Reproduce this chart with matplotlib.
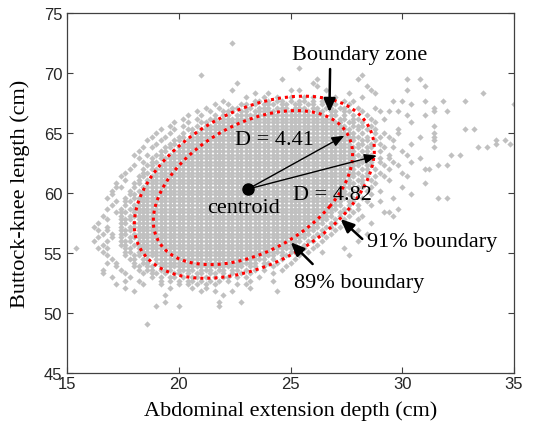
import numpy as np
import matplotlib
matplotlib.use('Agg')
import matplotlib.pyplot as plt
from matplotlib.patches import Ellipse

plt.rcParams['font.family'] = 'Liberation Sans'

# scatter read off the picture as a point map: one '#' = one sample,
# columns step 0.2 cm from x = 15.4, rows step 0.3 cm down from y = 72.5
# (spaces only split the columns into groups of ten)
map_x0, map_dx = 15.4, 0.2
map_y0, map_dy = 72.5, 0.3
scatter_map = [
    ".......... .......... .......... .....#.... .......... .......... .......... .......... .......... .........",
    ".......... .......... .......... .......... .......... .......... .......... .......... .......... .........",
    ".......... .......... .......... .......... .......... .......... .......... .......... .......... .........",
    ".......... .......... .......... .......... .......... .......... .......... .......... .......... .........",
    ".......... .......... .......... .......... .......... .......... .......... .......... .......... .........",
    ".......... .......... .......... .......... .......... .......... .......... .......... .......... .........",
    ".......... .......... .......... .......... .......... .......... .......... .......... .......... .........",
    ".......... .......... .......... .......... .......... #......... .......... .......... .......... .........",
    ".......... .......... .......... .......... .......... .......... .......... .......... .......... .........",
    ".......... .......... ........#. .......... .......... .......... ....#..... .......... .......... .........",
    ".......... .......... .......... .......... ......#... ....#..... ...#...... ....#..#.. .......... .........",
    ".......... .......... .......... ......#... .......... ...#...... .......... .......... .......... .........",
    ".......... .......... .......... .......... .......... ....#..... .....#.... ........#. .......... .........",
    ".......... .......... .......... .....#.... ........#. #.....#... ......#... ....#..... .......... .........",
    ".......... .......... .......... .......... #..#...... .......... .#.....#.. .......... .......... .#.......",
    ".......... .......... .......... ........#. ..#..#..#. .#.#....#. ....#..... .......... .......... .........",
    ".......... .......... .......... ...#...... ##.#.##.#. ##.#.##... #.#....... .#.#....#. ..#....#.. .........",
    ".......... .......... .......... .#..#..##. #.###.##.# #.##.#.##. .#........ .....#.... .......... ........#",
    ".......... .......... .........# ..#..##.## .###.###.# ##.##.##.# #..#...#.. .......... #......... .........",
    ".......... .......... .......#.. #..###.##. #####.#### ###.##.##. ##..#...#. #.#....... #..#...... .........",
    ".......... .......... .....#..#. .#.##.#### ########## ######.##. #.#..#.... ....#...#. .......... .........",
    ".......... .......... ....#..#.. ##.####### ########## ########.# #.##..#..# .......... .......... .........",
    ".......... .......... ..#..#..## .######### ########## ########## .##.#..#.. .....#.... .......... .........",
    ".......... .......... .#..#..#.# ########## ########## ########## #.###.#... .......... #......... .........",
    ".......... .........# ..#..##.## ########## ########## ########## ##.#.#.#.. ..#....... .......#.# .........",
    ".......... ........#. .#..#.#### ########## ########## ########## ###.#..#.# ..#....... #......... .........",
    ".......... .......#.. #..##.#### ########## ########## ########## ####.#..#. #......#.. #......... .........",
    ".......... ......#..# ..##.##### ########## ########## ########## ###.##.#.. .#........ #......... ....#.#..",
    ".......... ........#. .##.###### ########## ########## ########## ##.##.#.#. .....#.... .......... ....#..#.",
    ".......... .....#.#.. ##.####### ########## ########## ########## ####.##..# .#........ #......... #.#......",
    ".......... ....#....# #.######## ########## ########## ########## ###.##..#. ...#...... .......... .........",
    ".......... ...#..#.## .######### ########## ########## ########## ####.##... #...#..... ....#.#... .........",
    ".......... ....#..#.# ########## ########## ########## ########## ###.##..#. #......#.. .......... .........",
    ".......... .....#.##. ########## ########## ########## ########## #####.#.#. .#...#.... .......... .........",
    ".......... ...#..##.# ########## ########## ########## ########## ####.##..# ..#....... .#.#...... .........",
    ".......... ..#..#.### ########## ########## ########## ########## ###.##.#.. #.......## .......... .........",
    ".......... .#...##.## ########## ########## ########## ########## ####.#..#. ...#...... .......... .........",
    ".......... #...##.### ########## ########## ########## ########## ###.##.#.# ....#..... .......... .........",
    ".......... .#..#.#### ########## ########## ########## ########## ##.##.#... #......... .......... .........",
    ".........# ...##.#### ########## ########## ########## ########## ###.#..#.. ........#. .......... .........",
    ".........# #..#.##### ########## ########## ########## ########## ##.##.#... ...#...... .......... .........",
    "........#. ..#.###### ########## ########## ########## ########## #.##.#..#. .......... .......... .........",
    "........#. ..##.##### ########## ########## ########## ########## ##.#..#... .....#.... .......... .........",
    ".......#.. .#.####### ########## ########## ########## ########## #.#.#..... .#........ .#.#...... .........",
    ".........# .##.###### ########## ########## ########## ########## .##..#..#. .......... .......... .........",
    "........#. .#.####### ########## ########## ########## ########## .#.#..#... .......... .......... .........",
    ".......#.. #.######## ########## ########## ########## #########. ##.#...... ..#....... .......... .........",
    ".........# ##.####### ########## ########## ########## ########.# #.#......# #......... .......... .........",
    "......#... #.######## ########## ########## ########## ########.# .#..#..... .#........ .......... .........",
    ".......#.. ###.###### ########## ########## ########## #######.#. #..#...... .......... .......... .........",
    ".....#.... ##.####### ########## ########## ########## ######.##. #.....#... .......... .......... .........",
    "....#..#.. #.######## ########## ########## ########## #####.##.# .......... .......... .......... .........",
    ".....#.#.. ###.###### ########## ########## ########## ####.#..#. ...#...... .......... .......... .........",
    "......#.#. ##.####### ########## ########## ########## ###.##.#.. .....#.... .......... .......... .........",
    ".....#..#. #.######## ########## ########## ########## ##.#..#... .......... .......... .......... .........",
    "....#..#.. ###.###### ########## ########## ########## #.##.#.... ...#...... .......... .......... .........",
    "......#... ##.####### ########## ########## ########## .#..#..... .......... .......... .......... .........",
    "#....#.#.. .##.###### ########## ########## #########. ##.#...... #......... .......... .......... .........",
    "......#... .##.###### ########## ########## #######.## ..#..#.... .......... .......... .......... .........",
    ".......#.. .#.##.#### ########## ########## #####.##.. #......... .#........ .......... .......... .........",
    "........#. ..##.##.## ########## ########## ###.#.#..# .......... .......... .......... .......... .........",
    ".......#.# ...#.##.## ########## ########## #.##.#..#. .......... .......... .......... .......... .........",
    ".........# ...##.##.# ########## ########.# #.#.#..#.. .......... .......... .......... .......... .........",
    "......#... #...#.##.# ##.####.## #.##.##.#. #.#...#... .......... .......... .......... .......... .........",
    "......#... .#...#.##. #.##.#.##. ##.#.#.#.# ....#..... .......... .......... .......... .......... .........",
    "........#. ..#....#.# .##.#.##.# .#.##.#.#. .#........ .......... .......... .......... .......... .........",
    ".......... .#..#....# .#.#.##.#. #.#.#....# ....#..... .......... .......... .......... .......... .........",
    ".........# .....#...# ...#.#.#.# .#....#.#. .......... .......... .......... .......... .......... .........",
    ".......... .#........ .#....#..# .........# .......... .......... .......... .......... .......... .........",
    ".......... ...#...... ........#. .#...#.... .....#.... .......... .......... .......... .......... .........",
    ".......... .......... #......... ...#...... .......... .......... .......... .......... .......... .........",
    ".......... .......... .......... .......... .......... .......... .......... .......... .......... .........",
    ".......... .......... #......... ..#....#.. .......... .......... .......... .......... .......... .........",
    ".......... ........#. ...#...... ..#....... .......... .......... .......... .......... .......... .........",
    ".......... .......... .......... .......... .......... .......... .......... .......... .......... .........",
    ".......... .......... .......... .......... .......... .......... .......... .......... .......... .........",
    ".......... .......... .......... .......... .......... .......... .......... .......... .......... .........",
    ".......... .......... .......... .......... .......... .......... .......... .......... .......... .........",
    ".......... ......#... .......... .......... .......... .......... .......... .......... .......... .........",
]

centroid_x, centroid_y = 23.1, 60.33

# boundary ellipses: centre, half extent along x and y, correlation
b89_cx, b89_cy, b89_hx, b89_hy, b89_rho = 23.32, 60.45, 4.46, 6.42, 0.43
b91_cx, b91_cy, b91_hx, b91_hy, b91_rho = 23.38, 60.48, 5.37, 7.59, 0.41

xticks = [15, 20, 25, 30, 35]
yticks = [45, 50, 55, 60, 65, 70, 75]

xs, ys = [], []
for r, line in enumerate(scatter_map):
    for c, ch in enumerate(line.replace(' ', '')):
        if ch == '#':
            xs.append(map_x0 + c * map_dx)
            ys.append(map_y0 - r * map_dy)


def boundary(cx, cy, hx, hy, rho):
    cov = np.array([[hx**2, rho*hx*hy], [rho*hx*hy, hy**2]])
    vals, vecs = np.linalg.eigh(cov)
    ang = np.degrees(np.arctan2(vecs[1, 1], vecs[0, 1]))
    return Ellipse((cx, cy), 2*np.sqrt(vals[1]), 2*np.sqrt(vals[0]), angle=ang,
                   fill=False, ec='red', lw=2.2, ls=(0, (1, 1.3)), zorder=3)


fig = plt.figure(figsize=(5.33, 4.31), dpi=100)
ax = fig.add_axes([0.1257, 0.1323, 0.8387, 0.8352])

ax.plot(xs, ys, ls='none', marker='D', ms=3.2, mec='none', mfc='#c0c0c0', zorder=1)

ax.add_patch(boundary(b89_cx, b89_cy, b89_hx, b89_hy, b89_rho))
ax.add_patch(boundary(b91_cx, b91_cy, b91_hx, b91_hy, b91_rho))

thin = dict(arrowstyle='-|>,head_length=0.75,head_width=0.3', color='black', lw=1.0,
            shrinkA=0, shrinkB=0, mutation_scale=10)
thick = dict(arrowstyle='-|>,head_length=0.8,head_width=0.35', color='black', lw=1.8,
             shrinkA=0, shrinkB=0, mutation_scale=10)
ax.annotate('', xy=(27.41, 64.78), xytext=(centroid_x, centroid_y), arrowprops=thin, zorder=4)
ax.annotate('', xy=(28.86, 63.11), xytext=(centroid_x, centroid_y), arrowprops=thin, zorder=4)
ax.annotate('', xy=(26.74, 66.73), xytext=(26.77, 70.33), arrowprops=thick, zorder=4)
ax.annotate('', xy=(27.24, 57.83), xytext=(28.21, 56.17), arrowprops=thick, zorder=4)
ax.annotate('', xy=(25.01, 55.89), xytext=(25.99, 54.08), arrowprops=thick, zorder=4)

ax.plot(centroid_x, centroid_y, 'o', color='black', ms=8, zorder=5)

serif = dict(fontfamily='Liberation Serif', fontsize=16, color='black', zorder=6)
ax.text(25.08, 71.17, 'Boundary zone', ha='left', va='baseline', **serif)
ax.text(22.52, 64.08, 'D = 4.41', ha='left', va='baseline', **serif)
ax.text(25.13, 59.5, 'D = 4.82', ha='left', va='baseline', **serif)
ax.text(21.28, 58.39, 'centroid', ha='left', va='baseline', **serif)
ax.text(28.41, 55.56, '91% boundary', ha='left', va='baseline', **serif)
ax.text(25.17, 52.14, '89% boundary', ha='left', va='baseline', **serif)

ax.set_xlim(15, 35)
ax.set_ylim(45, 75)
ax.set_xticks(xticks)
ax.set_yticks(yticks)
ax.tick_params(direction='in', top=True, right=True, length=4, width=0.8,
               labelsize=12, labelcolor='#262626', color='#404040')
ax.tick_params(axis='x', pad=2.5)
ax.tick_params(axis='y', pad=3.5)
for s in ax.spines.values():
    s.set_color('#404040')
    s.set_linewidth(0.9)

ax.set_xlabel('Abdominal extension depth (cm)', fontfamily='Liberation Serif', fontsize=16, labelpad=6.5)
ax.set_ylabel('Buttock-knee length (cm)', fontfamily='Liberation Serif', fontsize=16, labelpad=10)

fig.savefig('out.png', dpi=100)
